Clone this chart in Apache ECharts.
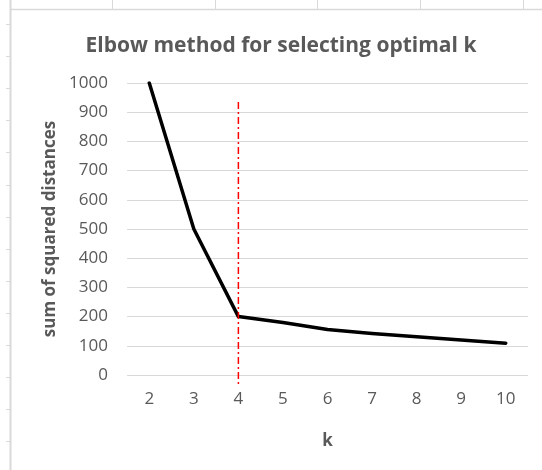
<!DOCTYPE html>
<html>
<head>
<meta charset="utf-8">
<script src="https://cdn.jsdelivr.net/npm/echarts@6/dist/echarts.min.js"></script>
<style>html,body{margin:0;padding:0;background:#fff;}#c{width:542px;height:470px;}</style>
</head>
<body>
<div id="c"></div>
<script>
const titleText = 'Elbow method for selecting optimal k';
const categories = ['2','3','4','5','6','7','8','9','10'];
const sse = [1000, 500, 200, 180, 156, 142, 131, 120, 109];
const elbowK = '4';
const elbowLine = [935, -40];
const yTicks = {min: 0, max: 1000, interval: 100};

const FONT = '"Open Sans", "Liberation Sans", sans-serif';
const GREY = '#595959';
const FRAME = '#d9d9d9';

const chart = echarts.init(document.getElementById('c'), null, {renderer: 'canvas'});

const deco = [];
deco.push({type:'line', shape:{x1:10.5, y1:0, x2:10.5, y2:470}, style:{stroke:FRAME, lineWidth:2}, silent:true});
deco.push({type:'line', shape:{x1:10, y1:9.5, x2:542, y2:9.5}, style:{stroke:FRAME, lineWidth:1.5}, silent:true});
[112, 215, 317, 420, 523].forEach(x => deco.push({type:'line', shape:{x1:x+0.5, y1:0, x2:x+0.5, y2:9}, style:{stroke:FRAME, lineWidth:1}, silent:true}));
for (let y = 24; y < 470; y += 32.1) deco.push({type:'line', shape:{x1:6, y1:Math.round(y)+0.5, x2:10, y2:Math.round(y)+0.5}, style:{stroke:FRAME, lineWidth:1}, silent:true});

chart.setOption({
  animation: false,
  backgroundColor: '#fff',
  title: {
    text: titleText,
    left: 276, top: 31, textAlign: 'center',
    textStyle: {fontFamily: FONT, fontWeight: 'bold', fontSize: 21, color: GREY}
  },
  grid: {left: 127, right: 14, top: 83, bottom: 95, containLabel: false},
  xAxis: {
    type: 'category',
    data: categories,
    boundaryGap: true,
    name: 'k',
    nameLocation: 'middle',
    nameGap: 58,
    nameTextStyle: {fontFamily: FONT, fontWeight: 'bold', fontSize: 17, color: GREY},
    axisLine: {show: false},
    axisTick: {show: false},
    axisLabel: {fontFamily: FONT, fontSize: 17, color: GREY, margin: 16}
  },
  yAxis: {
    type: 'value',
    min: yTicks.min, max: yTicks.max, interval: yTicks.interval,
    name: 'sum of squared distances',
    nameLocation: 'middle',
    nameRotate: 90,
    nameGap: 63,
    nameTextStyle: {fontFamily: FONT, fontWeight: 'bold', fontSize: 17, color: GREY},
    axisLine: {show: false},
    axisTick: {show: false},
    splitLine: {lineStyle: {color: FRAME, width: 1}},
    axisLabel: {fontFamily: FONT, fontSize: 17, color: GREY, margin: 19, formatter: v => String(v)}
  },
  series: [{
    type: 'line',
    data: sse,
    symbol: 'none',
    smooth: false,
    z: 3,
    lineStyle: {color: '#000', width: 3.5, join: 'round', cap: 'round'}
  }, {
    type: 'line',
    data: [[elbowK, elbowLine[0]], [elbowK, elbowLine[1]]],
    symbol: 'none',
    clip: false,
    silent: true,
    z: 4,
    lineStyle: {color: '#ff0000', width: 1.5, type: [7, 3, 2, 3]}
  }],
  graphic: deco
});
</script>
</body>
</html>
